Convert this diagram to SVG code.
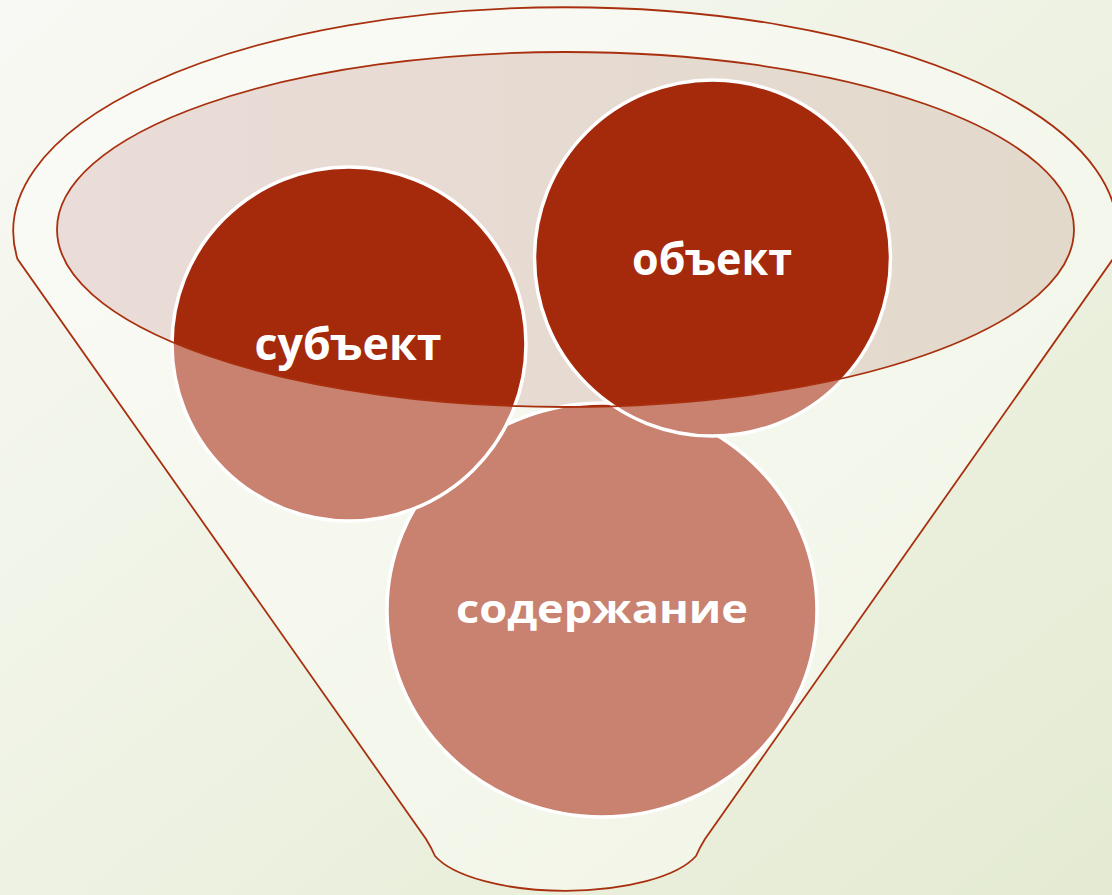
<svg xmlns="http://www.w3.org/2000/svg" width="1112" height="895" viewBox="0 0 1112 895">
  <defs>
    <linearGradient id="bg" x1="0" y1="0" x2="1" y2="1">
      <stop offset="0" stop-color="#f8f9f4"/>
      <stop offset="1" stop-color="#e4ebd2"/>
    </linearGradient>
    <linearGradient id="funnelFill" x1="0" y1="0" x2="1" y2="1">
      <stop offset="0" stop-color="#fafbf7"/>
      <stop offset="1" stop-color="#f0f4e4"/>
    </linearGradient>
    <linearGradient id="mouthFill" x1="0" y1="0" x2="1" y2="0">
      <stop offset="0" stop-color="#eadcd8"/>
      <stop offset="1" stop-color="#e2d9cb"/>
    </linearGradient>
    <clipPath id="mouthClip">
      <ellipse cx="565.5" cy="229.5" rx="508.5" ry="177.5"/>
    </clipPath>
    <style>
      .edge { fill: none; stroke: #a8300f; stroke-width: 1.8; }
      .light { fill: #c98170; }
      .dark { fill: #a52a0c; }
      .ring { fill: none; stroke: #ffffff; stroke-width: 3.5; }
      .label { font-family: "Open Sans", "Liberation Sans", sans-serif; font-weight: 700; fill: #ffffff; text-anchor: middle; }
    </style>
  </defs>

  <rect width="1112" height="895" fill="url(#bg)"/>

  <g id="funnel">
    <path d="M 17.5 259 A 552 224 0 1 1 1113 259 L 705 839 Q 700 847 696 856 A 137 50 0 0 1 435 856 Q 431 847 426 839 Z" fill="url(#funnelFill)"/>
    <path class="edge" d="M 17.5 259 A 552 224 0 1 1 1113 259 L 705 839 Q 700 847 696 856 A 137 50 0 0 1 435 856 Q 431 847 426 839 Z"/>
    <ellipse cx="565.5" cy="229.5" rx="508.5" ry="177.5" fill="url(#mouthFill)"/>
  </g>

  <g id="node-soderzhanie">
    <ellipse class="light" cx="602" cy="610" rx="215" ry="207"/>
    <ellipse class="dark" cx="602" cy="610" rx="215" ry="207" clip-path="url(#mouthClip)"/>
    <ellipse class="ring" cx="602" cy="610" rx="215" ry="207"/>
    <text class="label" x="602" y="623" font-size="40" textLength="292" lengthAdjust="spacingAndGlyphs">содержание</text>
  </g>

  <g id="node-subekt">
    <circle class="light" cx="349" cy="344" r="177"/>
    <circle class="dark" cx="349" cy="344" r="177" clip-path="url(#mouthClip)"/>
    <circle class="ring" cx="349" cy="344" r="177"/>
    <text class="label" x="348" y="360" font-size="44" textLength="187" lengthAdjust="spacingAndGlyphs">субъект</text>
  </g>

  <g id="node-obekt">
    <circle class="light" cx="712.5" cy="258" r="178"/>
    <circle class="dark" cx="712.5" cy="258" r="178" clip-path="url(#mouthClip)"/>
    <circle class="ring" cx="712.5" cy="258" r="178"/>
    <text class="label" x="712" y="275" font-size="44" textLength="160" lengthAdjust="spacingAndGlyphs">объект</text>
  </g>

  <g id="mouth-rim">
    <ellipse class="edge" cx="565.5" cy="229.5" rx="508.5" ry="177.5"/>
  </g>
</svg>
